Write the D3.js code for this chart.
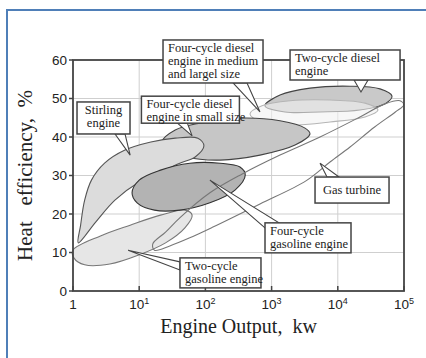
<!DOCTYPE html>
<html>
<head>
<meta charset="utf-8">
<title>Heat efficiency of engines</title>
<script src="https://cdn.jsdelivr.net/npm/d3@7"></script>
<style>
    body { margin: 0; background: #fff; }
    svg { display: block; }
    .tick-label { font-family: "Liberation Sans", Arial, sans-serif; font-size: 13.5px; fill: #222; }
    .axis-title { font-family: "Liberation Serif", "Times New Roman", serif; font-size: 20px; fill: #222; }
    .note { font-family: "Liberation Serif", "Times New Roman", serif; font-size: 12.5px; fill: #222; }
</style>
</head>
<body>
<svg id="chart" width="426" height="358"></svg>
<script>
// axis ticks
const outputTicks = [1, 10, 100, 1000, 10000, 100000];   // kW
const effTicks = [0, 10, 20, 30, 40, 50, 60];              // %

// region outlines, [output kW, efficiency %]
const twoCycleDiesel = [[795, 48.1], [1340, 50.9], [3800, 52.7], [15300, 53.2], [43400, 52.5], [65900, 50.6],
    [51600, 48.6], [21600, 47.0], [5390, 46.5], [1590, 46.5]];
const dieselMediumLarge = [[472, 46.0], [716, 48.1], [1900, 49.4], [7620, 49.6], [25800, 48.8], [40500, 47.0],
    [25800, 45.2], [7620, 43.9], [1900, 43.1], [716, 43.9]];
const dieselSmall = [[22, 38.7], [35, 41.8], [83, 43.6], [333, 44.9], [1340, 44.2], [3200, 42.3], [3800, 40.8],
    [2260, 37.9], [668, 35.3], [166, 34.0], [49, 34.8], [25, 36.6]];
const stirling = [[1.2, 12.5], [1.3, 17.0], [1.5, 23.6], [1.9, 28.8], [3.0, 33.2], [6.1, 36.6], [15, 38.7],
    [35, 39.7], [77, 39.7], [95, 37.7], [70, 34.8], [41, 33.2], [21, 30.9], [10, 28.3], [4.3, 23.6], [2.2, 17.9]];
const twoCycleGasoline = [[1.0, 10.6], [2.6, 14.3], [7.3, 17.1], [21, 19.7], [49, 21.0], [63, 19.7], [49, 16.4],
    [25, 12.5], [10, 9.4], [3.6, 7.0], [1.5, 6.8], [1.03, 8.6]];
const fourCycleGasoline = [[7.8, 25.5], [10, 28.8], [21, 31.4], [58, 33.2], [166, 33.2], [333, 32.2], [400, 30.1],
    [280, 26.2], [117, 22.9], [41, 21.0], [17, 21.0], [9.3, 22.9]];
const gasTurbine = [[16, 12.2], [25, 15.3], [41, 19.0], [117, 25.5], [360, 30.4], [1340, 35.3], [5390, 40.0],
    [21600, 45.2], [51600, 48.6], [87100, 49.4], [99000, 48.3], [74000, 46.5], [36000, 42.6], [15300, 37.4],
    [7620, 33.5], [3300, 28.6], [668, 22.6], [130, 16.6], [58, 13.8], [29, 11.7], [17, 10.6]];

const svg = d3.select("#chart");
const W = +svg.attr("width"), H = +svg.attr("height");
const margin = { top: 60, right: 22, bottom: 67, left: 73 };

const x = d3.scaleLog().domain([1, 1e5]).range([margin.left, W - margin.right]);
const y = d3.scaleLinear().domain([0, 60]).range([H - margin.bottom, margin.top]);

// blue page frame (right and bottom fall outside the picture)
svg.append("rect")
    .attr("x", 7).attr("y", 10).attr("width", 440).attr("height", 380)
    .attr("fill", "none").attr("stroke", "#4f7fb8").attr("stroke-width", 2);

// grid
const grid = svg.append("g").attr("stroke", "#cfcfcf").attr("stroke-width", 1);
grid.selectAll(".gx").data(outputTicks.slice(1, -1)).enter().append("line")
    .attr("x1", d => x(d)).attr("x2", d => x(d))
    .attr("y1", y(60)).attr("y2", y(0));
grid.selectAll(".gy").data(effTicks.slice(1, -1)).enter().append("line")
    .attr("x1", x(1)).attr("x2", x(1e5))
    .attr("y1", d => y(d)).attr("y2", d => y(d));

// regions
const outline = d3.line()
    .x(d => x(d[0])).y(d => y(d[1]))
    .curve(d3.curveCatmullRomClosed.alpha(0.5));

const regions = [
    { pts: twoCycleDiesel, fill: "#c9c9c9", stroke: "#444", op: 1 },
    { pts: dieselMediumLarge, fill: "#f2f2f2", stroke: "#b5b5b5", op: 0.6 },
    { pts: dieselSmall, fill: "#c6c6c6", stroke: "#444", op: 1 },
    { pts: stirling, fill: "#dcdcdc", stroke: "#555", op: 1 },
    { pts: twoCycleGasoline, fill: "#e6e6e6", stroke: "#777", op: 1 },
    { pts: fourCycleGasoline, fill: "#b3b3b3", stroke: "#333", op: 1 },
    { pts: gasTurbine, fill: "none", stroke: "#777", op: 1 }
];

svg.append("g").selectAll("path").data(regions).enter().append("path")
    .attr("d", d => outline(d.pts))
    .attr("fill", d => d.fill)
    .attr("fill-opacity", d => d.op)
    .attr("stroke", d => d.stroke)
    .attr("stroke-width", 1.1);

// plot frame
svg.append("rect")
    .attr("x", x(1)).attr("y", y(60))
    .attr("width", x(1e5) - x(1)).attr("height", y(0) - y(60))
    .attr("fill", "none").attr("stroke", "#444").attr("stroke-width", 1.8);

// ticks
svg.append("g").selectAll("line").data(outputTicks).enter().append("line")
    .attr("x1", d => x(d)).attr("x2", d => x(d))
    .attr("y1", y(0)).attr("y2", y(0) - 5)
    .attr("stroke", "#444").attr("stroke-width", 1.5);
svg.append("g").selectAll("line").data(effTicks).enter().append("line")
    .attr("x1", x(1) - 4).attr("x2", x(1))
    .attr("y1", d => y(d)).attr("y2", d => y(d))
    .attr("stroke", "#444").attr("stroke-width", 1.5);

// tick labels
svg.append("g").selectAll("text").data(effTicks).enter().append("text")
    .attr("class", "tick-label")
    .attr("x", x(1) - 6).attr("y", d => y(d))
    .attr("dy", "0.36em").attr("text-anchor", "end")
    .text(d => d);

const xl = svg.append("g").selectAll("text").data(outputTicks).enter().append("text")
    .attr("class", "tick-label")
    .attr("x", d => x(d)).attr("y", y(0) + 18)
    .attr("text-anchor", "middle");
xl.each(function(d) {
    const t = d3.select(this);
    const p = Math.round(Math.log10(d));
    if (p === 0) { t.text("1"); return; }
    t.append("tspan").text("10");
    t.append("tspan").attr("dy", -5).style("font-size", "9px").text(p);
});

// axis titles
svg.append("text").attr("class", "axis-title")
    .attr("x", (x(1) + x(1e5)) / 2).attr("y", 333)
    .attr("text-anchor", "middle")
    .attr("xml:space", "preserve")
    .text("Engine Output,  kw");
svg.append("text").attr("class", "axis-title")
    .attr("transform", `translate(32,${(y(0) + y(60)) / 2}) rotate(-90)`)
    .attr("text-anchor", "middle")
    .attr("xml:space", "preserve")
    .style("font-size", "21px")
    .text("Heat   efficiency,  %");

// callouts: box top-left and pointer tip in data units, box size and pointer base in px
const callouts = [
    { lines: ["Stirling", "engine"], at: [1.15, 49.1], w: 53, h: 32, tip: [7.3, 35.3], base: [[38, 32], [48, 32]], center: true },
    { lines: ["Four-cycle diesel", "engine in small size"], at: [10.8, 50.6], w: 98, h: 27, tip: [63, 40.3], base: [[36, 27], [46, 27]] },
    { lines: ["Four-cycle diesel", "engine in medium", "and largel size"], at: [22.9, 65.2], w: 100, h: 43, tip: [668, 46.5], base: [[70, 43], [84, 43]] },
    { lines: ["Two-cycle diesel", "engine"], at: [1900, 62.6], w: 110, h: 30, tip: [22400, 51.7], base: [[64, 30], [78, 30]] },
    { lines: ["Gas turbine"], at: [4530, 29.6], w: 74, h: 26, tip: [5390, 33.2], base: [[12, 0], [24, 0]], center: true },
    { lines: ["Four-cycle", "gasoline engine"], at: [795, 17.7], w: 86, h: 30, tip: [117, 28.8], base: [[0, 5], [14, 0]] },
    { lines: ["Two-cycle", "gasoline engine"], at: [41.3, 8.6], w: 81, h: 30, tip: [6.8, 10.6], base: [[0, 4], [0, 12]] }
];

const notes = svg.append("g").selectAll("g").data(callouts).enter().append("g");

notes.append("path")
    .attr("d", d => {
        const bx = x(d.at[0]), by = y(d.at[1]);
        return `M${bx + d.base[0][0]},${by + d.base[0][1]}L${x(d.tip[0])},${y(d.tip[1])}L${bx + d.base[1][0]},${by + d.base[1][1]}Z`;
    })
    .attr("fill", "#fff").attr("stroke", "#444").attr("stroke-width", 1.1);

notes.append("rect")
    .attr("x", d => x(d.at[0])).attr("y", d => y(d.at[1]))
    .attr("width", d => d.w).attr("height", d => d.h)
    .attr("fill", "#fff").attr("stroke", "#444").attr("stroke-width", 1.5);

notes.each(function(d) {
    const bx = x(d.at[0]), by = y(d.at[1]);
    const t = d3.select(this).append("text").attr("class", "note")
        .attr("text-anchor", d.center ? "middle" : "start");
    d.lines.forEach((s, i) => {
        t.append("tspan")
            .attr("x", d.center ? bx + d.w / 2 : bx + 5)
            .attr("y", by + 12 + i * 13 + (d.lines.length === 1 ? 5 : 0))
            .text(s);
    });
});
</script>
</body>
</html>
